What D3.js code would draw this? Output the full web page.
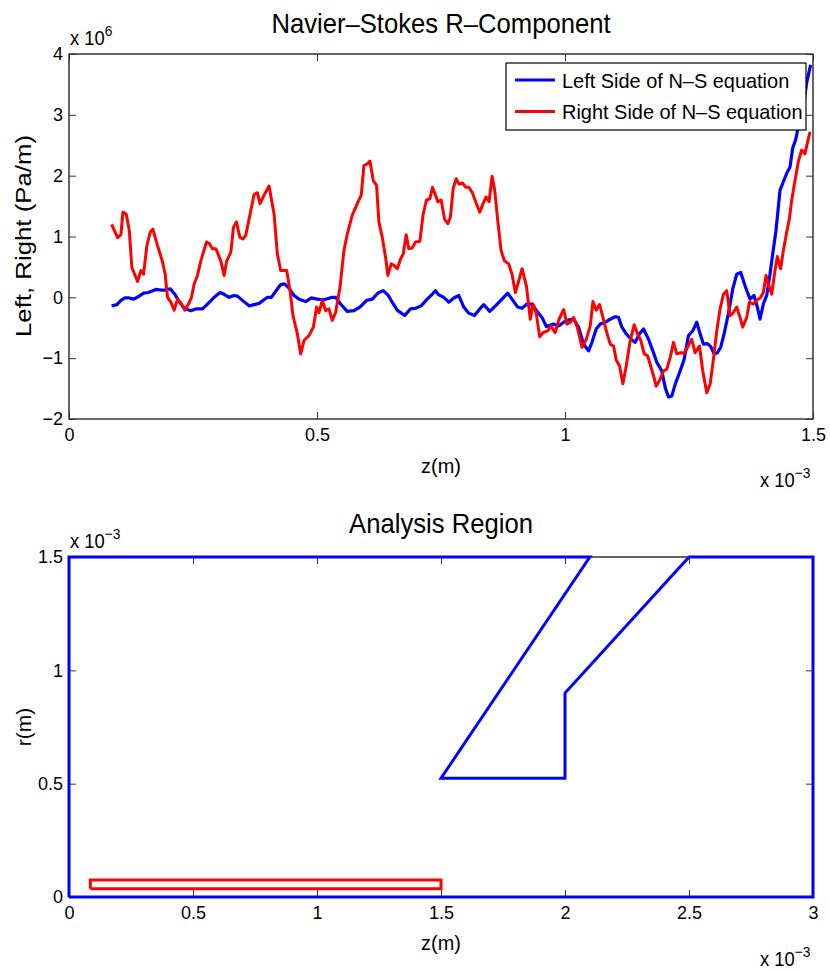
<!DOCTYPE html>
<html><head><meta charset="utf-8">
<script src="https://cdn.jsdelivr.net/npm/d3@7"></script>
<style>
body{margin:0;background:#fff;}
text{font-family:"Liberation Sans",Arial,Helvetica,sans-serif;fill:#000;}
</style></head>
<body>
<svg id="chart" width="830" height="970"></svg>
<script>
// ---------- DATA (z in 1e-3 m, values in 1e6 Pa/m, r in 1e-3 m) ----------
const zLeft = [0.0859,0.0966,0.1047,0.1127,0.1215,0.1302,0.1396,0.1503,0.1597,0.1664,0.1752,0.1852,0.1953,0.2040,0.2134,0.2221,0.2322,0.2456,0.2557,0.2691,0.2792,0.2926,0.3047,0.3127,0.3228,0.3329,0.3396,0.3496,0.3631,0.3731,0.3832,0.3933,0.4000,0.4080,0.4168,0.4268,0.4349,0.4436,0.4537,0.4637,0.4772,0.4886,0.5006,0.5141,0.5308,0.5375,0.5476,0.5610,0.5745,0.5865,0.6000,0.6114,0.6228,0.6335,0.6429,0.6516,0.6617,0.6765,0.6885,0.6986,0.7100,0.7221,0.7322,0.7389,0.7456,0.7557,0.7657,0.7758,0.7859,0.7959,0.8060,0.8174,0.8281,0.8362,0.8483,0.8597,0.8731,0.8845,0.8932,0.9046,0.9134,0.9234,0.9335,0.9436,0.9536,0.9624,0.9771,0.9872,0.9973,1.0073,1.0174,1.0274,1.0375,1.0476,1.0543,1.0630,1.0711,1.0811,1.0912,1.1013,1.1080,1.1147,1.1234,1.1328,1.1415,1.1503,1.1583,1.1684,1.1771,1.1852,1.1952,1.2019,1.2086,1.2154,1.2221,1.2321,1.2402,1.2489,1.2576,1.2657,1.2724,1.2791,1.2872,1.2939,1.3006,1.3073,1.3140,1.3207,1.3294,1.3382,1.3462,1.3543,1.3630,1.3731,1.3811,1.3878,1.3932,1.3999,1.4066,1.4133,1.4187,1.4254,1.4335,1.4402,1.4482,1.4536,1.4590,1.4650,1.4704,1.4751,1.4818,1.4871,1.4952];
const leftSide = [-0.14,-0.12,-0.05,-0.01,-0.01,-0.03,0.01,0.07,0.08,0.10,0.13,0.12,0.12,0.14,0.05,-0.07,-0.18,-0.22,-0.19,-0.19,-0.11,0.00,0.08,0.05,0.00,0.03,0.02,-0.05,-0.14,-0.12,-0.10,-0.04,0.00,0.00,0.10,0.21,0.22,0.15,0.03,-0.03,-0.07,-0.01,-0.03,-0.04,0.00,0.00,-0.11,-0.23,-0.22,-0.16,-0.05,-0.03,0.07,0.11,0.04,-0.08,-0.21,-0.30,-0.19,-0.18,-0.14,-0.03,0.05,0.11,0.04,0.00,-0.08,-0.01,0.03,-0.16,-0.26,-0.30,-0.19,-0.12,-0.23,-0.14,-0.03,0.07,-0.03,-0.16,-0.18,-0.11,-0.11,-0.23,-0.33,-0.48,-0.44,-0.47,-0.41,-0.37,-0.36,-0.49,-0.77,-0.88,-0.74,-0.52,-0.44,-0.41,-0.36,-0.32,-0.33,-0.49,-0.60,-0.69,-0.74,-0.60,-0.52,-0.69,-0.88,-1.07,-1.21,-1.48,-1.64,-1.62,-1.43,-1.21,-1.02,-0.63,-0.55,-0.41,-0.60,-0.77,-0.76,-0.81,-0.93,-0.91,-0.82,-0.60,-0.27,0.14,0.38,0.41,0.19,-0.03,0.03,-0.16,-0.36,-0.11,0.03,0.38,0.71,1.10,1.76,1.90,2.06,2.14,2.45,2.59,2.80,3.05,3.21,3.52,3.82];
const zRight = [0.0859,0.0980,0.1047,0.1087,0.1154,0.1215,0.1268,0.1382,0.1450,0.1503,0.1570,0.1637,0.1691,0.1785,0.1886,0.1939,0.1986,0.2054,0.2121,0.2188,0.2268,0.2335,0.2409,0.2470,0.2523,0.2590,0.2658,0.2772,0.2832,0.2892,0.2960,0.3060,0.3127,0.3181,0.3262,0.3315,0.3376,0.3443,0.3510,0.3564,0.3631,0.3731,0.3798,0.3852,0.3933,0.4033,0.4134,0.4201,0.4268,0.4389,0.4456,0.4516,0.4604,0.4671,0.4738,0.4839,0.4926,0.4993,0.5040,0.5107,0.5174,0.5241,0.5308,0.5375,0.5463,0.5543,0.5610,0.5711,0.5812,0.5892,0.5946,0.6013,0.6067,0.6134,0.6201,0.6248,0.6315,0.6382,0.6429,0.6496,0.6563,0.6617,0.6684,0.6738,0.6798,0.6852,0.6919,0.6986,0.7073,0.7141,0.7208,0.7275,0.7328,0.7389,0.7436,0.7503,0.7570,0.7637,0.7691,0.7745,0.7805,0.7865,0.7932,0.7999,0.8060,0.8127,0.8208,0.8281,0.8348,0.8409,0.8469,0.8530,0.8583,0.8644,0.8711,0.8778,0.8865,0.8932,0.8999,0.9067,0.9134,0.9221,0.9301,0.9355,0.9422,0.9489,0.9557,0.9650,0.9718,0.9800,0.9880,0.9973,1.0040,1.0107,1.0174,1.0241,1.0342,1.0429,1.0509,1.0563,1.0630,1.0697,1.0765,1.0832,1.0912,1.0979,1.1033,1.1100,1.1167,1.1234,1.1315,1.1395,1.1462,1.1529,1.1597,1.1664,1.1717,1.1785,1.1838,1.1905,1.1986,1.2053,1.2120,1.2187,1.2254,1.2335,1.2402,1.2469,1.2556,1.2623,1.2711,1.2778,1.2858,1.2925,1.2992,1.3060,1.3127,1.3194,1.3261,1.3328,1.3395,1.3462,1.3529,1.3583,1.3664,1.3717,1.3798,1.3865,1.3946,1.3999,1.4053,1.4100,1.4167,1.4234,1.4281,1.4348,1.4402,1.4469,1.4523,1.4570,1.4637,1.4704,1.4771,1.4838,1.4885,1.4939];
const rightSide = [1.20,0.98,1.03,1.40,1.37,1.10,0.49,0.26,0.44,0.38,0.85,1.07,1.12,0.85,0.58,0.38,0.00,-0.08,-0.21,-0.03,-0.11,-0.21,-0.11,0.00,0.22,0.36,0.60,0.91,0.88,0.80,0.80,0.60,0.36,0.60,0.74,1.15,1.24,0.99,0.96,1.02,1.29,1.69,1.72,1.54,1.68,1.83,1.37,0.71,0.44,0.44,0.11,-0.30,-0.60,-0.93,-0.71,-0.63,-0.49,-0.16,-0.25,-0.05,-0.22,-0.19,-0.38,-0.25,0.16,0.77,1.04,1.35,1.54,1.68,2.17,2.19,2.24,1.92,1.84,1.24,0.99,0.66,0.36,0.55,0.52,0.47,0.63,0.71,1.03,0.80,0.81,0.91,0.92,1.37,1.60,1.62,1.81,1.68,1.57,1.60,1.29,1.21,1.32,1.79,1.95,1.86,1.88,1.81,1.81,1.73,1.55,1.40,1.54,1.65,1.57,1.99,1.76,1.26,0.77,0.60,0.55,0.38,0.08,0.27,0.47,0.19,-0.36,-0.11,-0.27,-0.65,-0.58,-0.55,-0.47,-0.58,-0.36,-0.20,-0.44,-0.41,-0.33,-0.47,-0.82,-0.69,-0.47,-0.07,-0.21,-0.12,-0.33,-0.55,-0.77,-0.80,-1.03,-1.13,-1.42,-1.13,-0.71,-0.45,-0.60,-0.71,-0.93,-0.96,-1.10,-1.29,-1.46,-1.37,-1.21,-1.18,-0.99,-0.74,-0.93,-0.91,-0.92,-0.82,-0.69,-0.91,-0.80,-1.21,-1.57,-1.43,-1.02,-0.55,-0.19,0.05,0.11,-0.30,-0.25,-0.16,-0.33,-0.49,-0.33,-0.08,-0.11,-0.05,0.00,0.08,0.36,0.22,0.05,0.44,0.67,0.47,0.77,1.07,1.29,1.59,1.92,2.23,2.42,2.36,2.53,2.72];

const topXTicks = [0, 0.5, 1, 1.5];
const topXTickLabels = ["0", "0.5", "1", "1.5"];
const topYTicks = [-2, -1, 0, 1, 2, 3, 4];
const topYTickLabels = ["\u22122", "\u22121", "0", "1", "2", "3", "4"];

const regionZ = [0, 3, 3, 2.5, 2, 2, 1.5, 2.1, 0, 0];
const regionR = [0, 0, 1.5, 1.5, 0.9, 0.524, 0.524, 1.5, 1.5, 0];
const analysisZ = [0.086, 1.5, 1.5, 0.086, 0.086];
const analysisR = [0.036, 0.036, 0.075, 0.075, 0.036];

const botXTicks = [0, 0.5, 1, 1.5, 2, 2.5, 3];
const botXTickLabels = ["0", "0.5", "1", "1.5", "2", "2.5", "3"];
const botYTicks = [0, 0.5, 1, 1.5];
const botYTickLabels = ["0", "0.5", "1", "1.5"];

const legendLabels = ["Left Side of N\u2013S equation", "Right Side of N\u2013S equation"];
const seriesColors = ["#0000ff", "#ff0000"];

// ---------- DRAW ----------
const svg = d3.select("#chart");
const FS = 18;

function frame(g, x, y, xt, xl, yt, yl) {
  const [x0, x1] = x.range(), [y1, y0] = y.range();
  g.append("rect").attr("x", x0).attr("y", y0).attr("width", x1 - x0).attr("height", y1 - y0)
    .attr("fill", "none").attr("stroke", "#000").attr("stroke-width", 1.2);
  const fmt = (vals, labs) => d => labs[vals.indexOf(d)];
  const tk = 7;
  const ax = [
    [d3.axisBottom(x).tickValues(xt).tickFormat(fmt(xt, xl)).tickPadding(9), `translate(0,${y1})`],
    [d3.axisTop(x).tickValues(xt).tickFormat(""), `translate(0,${y0})`],
    [d3.axisLeft(y).tickValues(yt).tickFormat(fmt(yt, yl)).tickPadding(6), `translate(${x0},0)`],
    [d3.axisRight(y).tickValues(yt).tickFormat(""), `translate(${x1},0)`]
  ];
  ax.forEach(([a, t]) => {
    const s = g.append("g").attr("transform", t)
      .call(a.tickSizeInner(-tk).tickSizeOuter(0));
    s.select(".domain").remove();
    s.selectAll("line").attr("stroke", "#333").attr("stroke-width", 1);
    s.selectAll("text").attr("font-size", FS).attr("font-family", '"Liberation Sans",Arial,sans-serif').attr("fill", "#000");
  });
}

// condensed text helper (the original glyphs are slightly narrow)
function ctext(x, y, str, size, anchor, sx) {
  return svg.append("text").attr("transform", `translate(${x},${y}) scale(${sx || 0.95},1)`)
    .attr("text-anchor", anchor || "start").attr("font-size", size).text(str);
}

function expLabel(x, y, sup) {
  const t = svg.append("text").attr("transform", `translate(${x},${y}) scale(0.92,1)`).attr("font-size", 20);
  t.append("tspan").text("x 10");
  t.append("tspan").attr("dy", -9).attr("font-size", 15).text(sup);
}

// Top plot
const xT = d3.scaleLinear().domain([0, 1.5]).range([69, 813]);
const yT = d3.scaleLinear().domain([-2, 4]).range([419, 54]);
const gT = svg.append("g");
const line = d3.line().x(d => xT(d[0])).y(d => yT(d[1]));
const leftPts = zLeft.map((z, i) => [z, leftSide[i]]);
const rightPts = zRight.map((z, i) => [z, rightSide[i]]);
gT.append("path").attr("d", line(leftPts)).attr("fill", "none").attr("stroke", seriesColors[0]).attr("stroke-width", 3.2).attr("stroke-linejoin", "round");
gT.append("path").attr("d", line(rightPts)).attr("fill", "none").attr("stroke", seriesColors[1]).attr("stroke-width", 3).attr("stroke-linejoin", "round");
frame(gT, xT, yT, topXTicks, topXTickLabels, topYTicks, topYTickLabels);

ctext(441, 33, "Navier\u2013Stokes R\u2013Component", 27, "middle");
ctext(441, 473, "z(m)", 21, "middle");
svg.append("text").attr("transform", "translate(31,236) rotate(-90) scale(1.2,1)").attr("text-anchor", "middle").attr("font-size", 21.5)
  .text("Left, Right (Pa/m)");
expLabel(70, 45, "6");
expLabel(760, 487, "\u22123");

// Legend
const lg = svg.append("g");
lg.append("rect").attr("x", 506).attr("y", 63).attr("width", 300).attr("height", 67).attr("fill", "#fff").attr("stroke", "#000").attr("stroke-width", 1.2);
legendLabels.forEach((lab, i) => {
  const yy = 80 + i * 31.5;
  lg.append("line").attr("x1", 515).attr("x2", 555).attr("y1", yy).attr("y2", yy).attr("stroke", seriesColors[i]).attr("stroke-width", 3.2);
  lg.append("text").attr("transform", `translate(562,${yy + 7.5}) scale(0.95,1)`).attr("font-size", 21).text(lab);
});

// Bottom plot
const xB = d3.scaleLinear().domain([0, 3]).range([69, 813]);
const yB = d3.scaleLinear().domain([0, 1.5]).range([897, 557]);
const gB = svg.append("g");
frame(gB, xB, yB, botXTicks, botXTickLabels, botYTicks, botYTickLabels);
const lineB = d3.line().x(d => xB(d[0])).y(d => yB(d[1]));
gB.append("path").attr("d", lineB(regionZ.map((z, i) => [z, regionR[i]]))).attr("fill", "none").attr("stroke", "#0000ff").attr("stroke-width", 3).attr("stroke-linejoin", "miter");
gB.append("path").attr("d", lineB(analysisZ.map((z, i) => [z, analysisR[i]]))).attr("fill", "none").attr("stroke", "#ff0000").attr("stroke-width", 3);

ctext(441, 533, "Analysis Region", 27, "middle");
ctext(441, 950, "z(m)", 21, "middle");
svg.append("text").attr("transform", "translate(31,727) rotate(-90)").attr("text-anchor", "middle").attr("font-size", 21).text("r(m)");
expLabel(70, 548, "\u22123");
expLabel(760, 966, "\u22123");
</script>
</body></html>
